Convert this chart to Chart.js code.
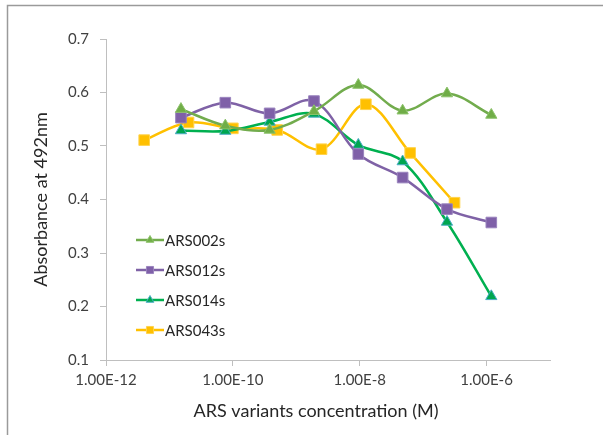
<!DOCTYPE html>
<html>
<head>
<meta charset="utf-8">
<script src="https://cdn.jsdelivr.net/npm/chart.js@4"></script>
<style>
  html, body { margin: 0; padding: 0; background: #fff; }
  #wrap { position: relative; width: 603px; height: 435px; }
</style>
</head>
<body>
<div id="wrap"><canvas id="c" width="603" height="435"></canvas></div>
<script>
// Concentrations (M), 5-fold dilution series
const concA = [1.52e-11, 7.6e-11, 3.8e-10, 1.9e-9, 9.5e-9, 4.75e-8, 2.375e-7, 1.1875e-6];
const concB = [4e-12, 2e-11, 1e-10, 5e-10, 2.5e-9, 1.25e-8, 6.25e-8, 3.125e-7];
// Absorbance at 492nm
const ars002s = [0.569, 0.538, 0.530, 0.565, 0.614, 0.566, 0.598, 0.558];
const ars012s = [0.553, 0.581, 0.561, 0.584, 0.485, 0.441, 0.382, 0.357];
const ars014s = [0.529, 0.528, 0.545, 0.560, 0.502, 0.471, 0.358, 0.219];
const ars043s = [0.511, 0.544, 0.533, 0.530, 0.494, 0.578, 0.487, 0.394];
const seriesNames = ['ARS002s', 'ARS012s', 'ARS014s', 'ARS043s'];
const xTickValues = [1e-12, 1e-10, 1e-8, 1e-6];
const yTickValues = [0.1, 0.2, 0.3, 0.4, 0.5, 0.6, 0.7];
const xTitle = 'ARS variants concentration (M)';
const yTitle = 'Absorbance at 492nm';

const FONT = 'Lato, "Open Sans", "Liberation Sans", sans-serif';
const toPts = (xs, ys) => xs.map((x, i) => ({ x: x, y: ys[i] }));

const styles = [
  { line: '#72AC4D', fill: '#70AD47', border: '#8CC26A', style: 'triangle', r: 6.5 },
  { line: '#7F62A6', fill: '#7F60A8', border: '#9A84BE', style: 'rect', r: 7.5 },
  { line: '#00B050', fill: '#00A650', border: '#4BACC6', style: 'triangle', r: 6.5 },
  { line: '#FFC000', fill: '#FFC000', border: '#FFD34D', style: 'rect', r: 7.5 }
];
const dataSets = [toPts(concA, ars002s), toPts(concA, ars012s), toPts(concA, ars014s), toPts(concB, ars043s)];

const datasets = dataSets.map((d, i) => ({
  label: seriesNames[i],
  data: d,
  borderColor: styles[i].line,
  backgroundColor: styles[i].fill,
  pointBackgroundColor: styles[i].fill,
  pointBorderColor: styles[i].border,
  pointBorderWidth: 1,
  pointStyle: styles[i].style,
  pointRadius: styles[i].r,
  pointHoverRadius: styles[i].r,
  borderWidth: 2.5,
  tension: 0.35,
  fill: false
}));

const framePlugin = {
  id: 'frame',
  beforeDraw(chart) {
    const ctx = chart.ctx;
    ctx.save();
    ctx.strokeStyle = '#9A9A9A';
    ctx.lineWidth = 1.5;
    ctx.beginPath();
    ctx.moveTo(603, 5.5);
    ctx.lineTo(7.5, 5.5);
    ctx.lineTo(7.5, 435);
    ctx.stroke();
    ctx.restore();
  }
};

const xTitlePlugin = {
  id: 'xTitle',
  afterDraw(chart) {
    const ctx = chart.ctx;
    ctx.save();
    ctx.fillStyle = '#262626';
    ctx.font = '18px ' + FONT;
    ctx.textAlign = 'center';
    ctx.textBaseline = 'middle';
    ctx.fillText(xTitle, chart.chartArea.left + 210, 411);
    ctx.restore();
  }
};

const legendPlugin = {
  id: 'insideLegend',
  afterDatasetsDraw(chart) {
    const ctx = chart.ctx;
    const x0 = 136, x1 = 164, rowY = [240, 270, 300, 330];
    ctx.save();
    chart.data.datasets.forEach((ds, i) => {
      const y = rowY[i];
      ctx.strokeStyle = ds.borderColor;
      ctx.lineWidth = 2.5;
      ctx.beginPath();
      ctx.moveTo(x0, y);
      ctx.lineTo(x1, y);
      ctx.stroke();
      ctx.fillStyle = ds.pointBackgroundColor;
      ctx.strokeStyle = ds.pointBorderColor;
      ctx.lineWidth = 1;
      Chart.helpers.drawPoint(ctx, { pointStyle: ds.pointStyle, radius: ds.pointStyle === 'rect' ? 5 : 4.5, rotation: 0, borderWidth: 1 }, (x0 + x1) / 2, y);
      ctx.fillStyle = '#262626';
      ctx.font = '15px ' + FONT;
      ctx.textBaseline = 'middle';
      ctx.textAlign = 'left';
      ctx.fillText(ds.label, x1 + 1, y + 1);
    });
    ctx.restore();
  }
};

new Chart(document.getElementById('c'), {
  type: 'line',
  data: { datasets: datasets },
  plugins: [framePlugin, legendPlugin, xTitlePlugin],
  options: {
    responsive: false,
    animation: false,
    devicePixelRatio: 1,
    layout: { padding: { left: 30, right: 53, top: 39, bottom: 0 } },
    plugins: { legend: { display: false }, tooltip: { enabled: false } },
    scales: {
      x: {
        type: 'logarithmic',
        min: 1e-12,
        max: 1e-5,
        afterBuildTicks(scale) { scale.ticks = xTickValues.map(v => ({ value: v })); },
        afterFit(scale) { scale.height = 75; },
        ticks: {
          autoSkip: false,
          maxRotation: 0,
          color: '#404040',
          font: { family: FONT, size: 15 },
          padding: 5,
          callback: (v) => Number(v).toExponential(2).toUpperCase()
        },
        grid: { drawOnChartArea: false, drawTicks: true, tickLength: 6, color: '#BFBFBF' },
        border: { color: '#BFBFBF', width: 1 },
        title: { display: false }
      },
      y: {
        type: 'linear',
        min: 0.1,
        max: 0.7,
        afterBuildTicks(scale) { scale.ticks = yTickValues.map(v => ({ value: v })); },
        afterFit(scale) { scale.width = 76; },
        ticks: {
          color: '#404040',
          font: { family: FONT, size: 15 },
          padding: 11,
          callback: (v) => Number(v).toFixed(1)
        },
        grid: { drawOnChartArea: false, drawTicks: true, tickLength: 6, color: '#BFBFBF' },
        border: { color: '#BFBFBF', width: 1 },
        title: { display: true, text: yTitle, color: '#262626', font: { family: FONT, size: 18 }, padding: { top: 0, bottom: 4 } }
      }
    }
  }
});
</script>
</body>
</html>
